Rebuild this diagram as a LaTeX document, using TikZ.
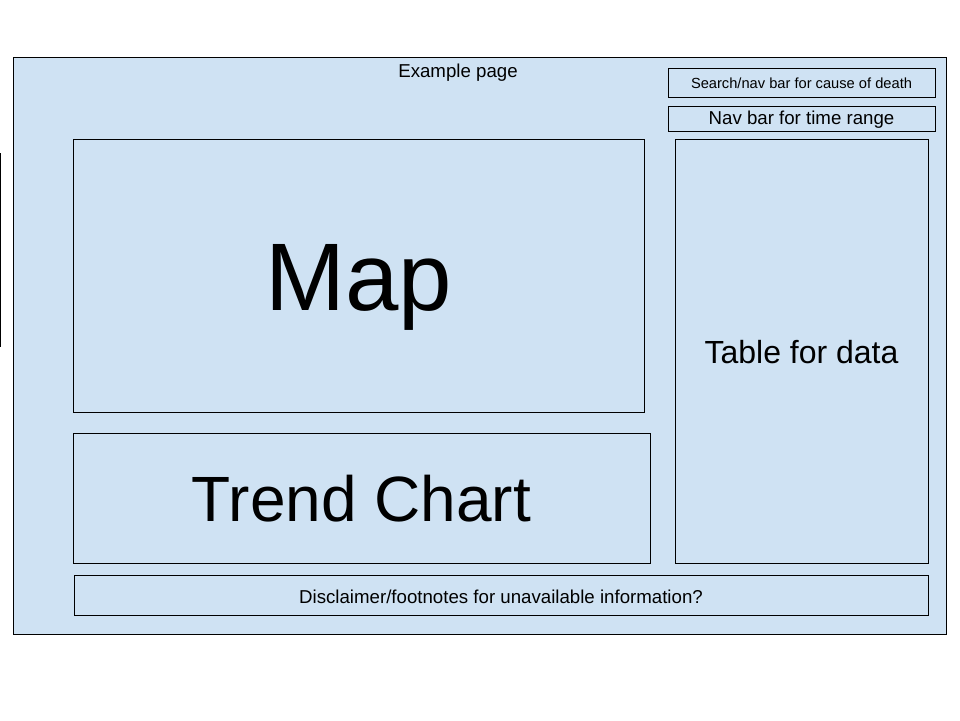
\documentclass[tikz,border=0pt]{standalone}
\usepackage{fontspec}
\setmainfont{Liberation Sans}
\definecolor{paneblue}{HTML}{CFE2F3}
\begin{document}
\begin{tikzpicture}[x=1pt,y=-1pt,
  panel/.style={draw=black,line width=1pt},
  lbl/.style={inner sep=0pt,anchor=center}]
\useasboundingbox (0,0) rectangle (960,720);
\draw[panel,fill=paneblue] (13,57) rectangle (946,634);
\node[lbl,font=\fontsize{18.67}{22}\selectfont] (title) at (458,72.5) {Example page};
\draw[panel] (668,68) rectangle (935,97);
\node[lbl,font=\fontsize{14.67}{17}\selectfont] (search) at (801.5,83.5) {Search/nav bar for cause of death};
\draw[panel] (668,106) rectangle (935,131);
\node[lbl,font=\fontsize{18.67}{22}\selectfont] (nav) at (801.5,120) {Nav bar for time range};
\draw[panel] (73,139) rectangle (644,412);
\node[lbl,font=\fontsize{96}{110}\selectfont] (map) at (358.5,287) {Map};
\draw[panel] (675,139) rectangle (928,563);
\node[lbl,font=\fontsize{32}{38}\selectfont] (table) at (801.5,352.5) {Table for data};
\draw[panel] (73,433) rectangle (650,563);
\node[lbl,font=\fontsize{64}{72}\selectfont] (trend) at (361.5,499) {Trend Chart};
\draw[panel] (74,575) rectangle (928,615);
\node[lbl,font=\fontsize{18.67}{22}\selectfont] (disc) at (501,596.5) {Disclaimer/footnotes for unavailable information?};
\draw[line width=1pt] (0.5,153) -- (0.5,347);
\end{tikzpicture}
\end{document}
